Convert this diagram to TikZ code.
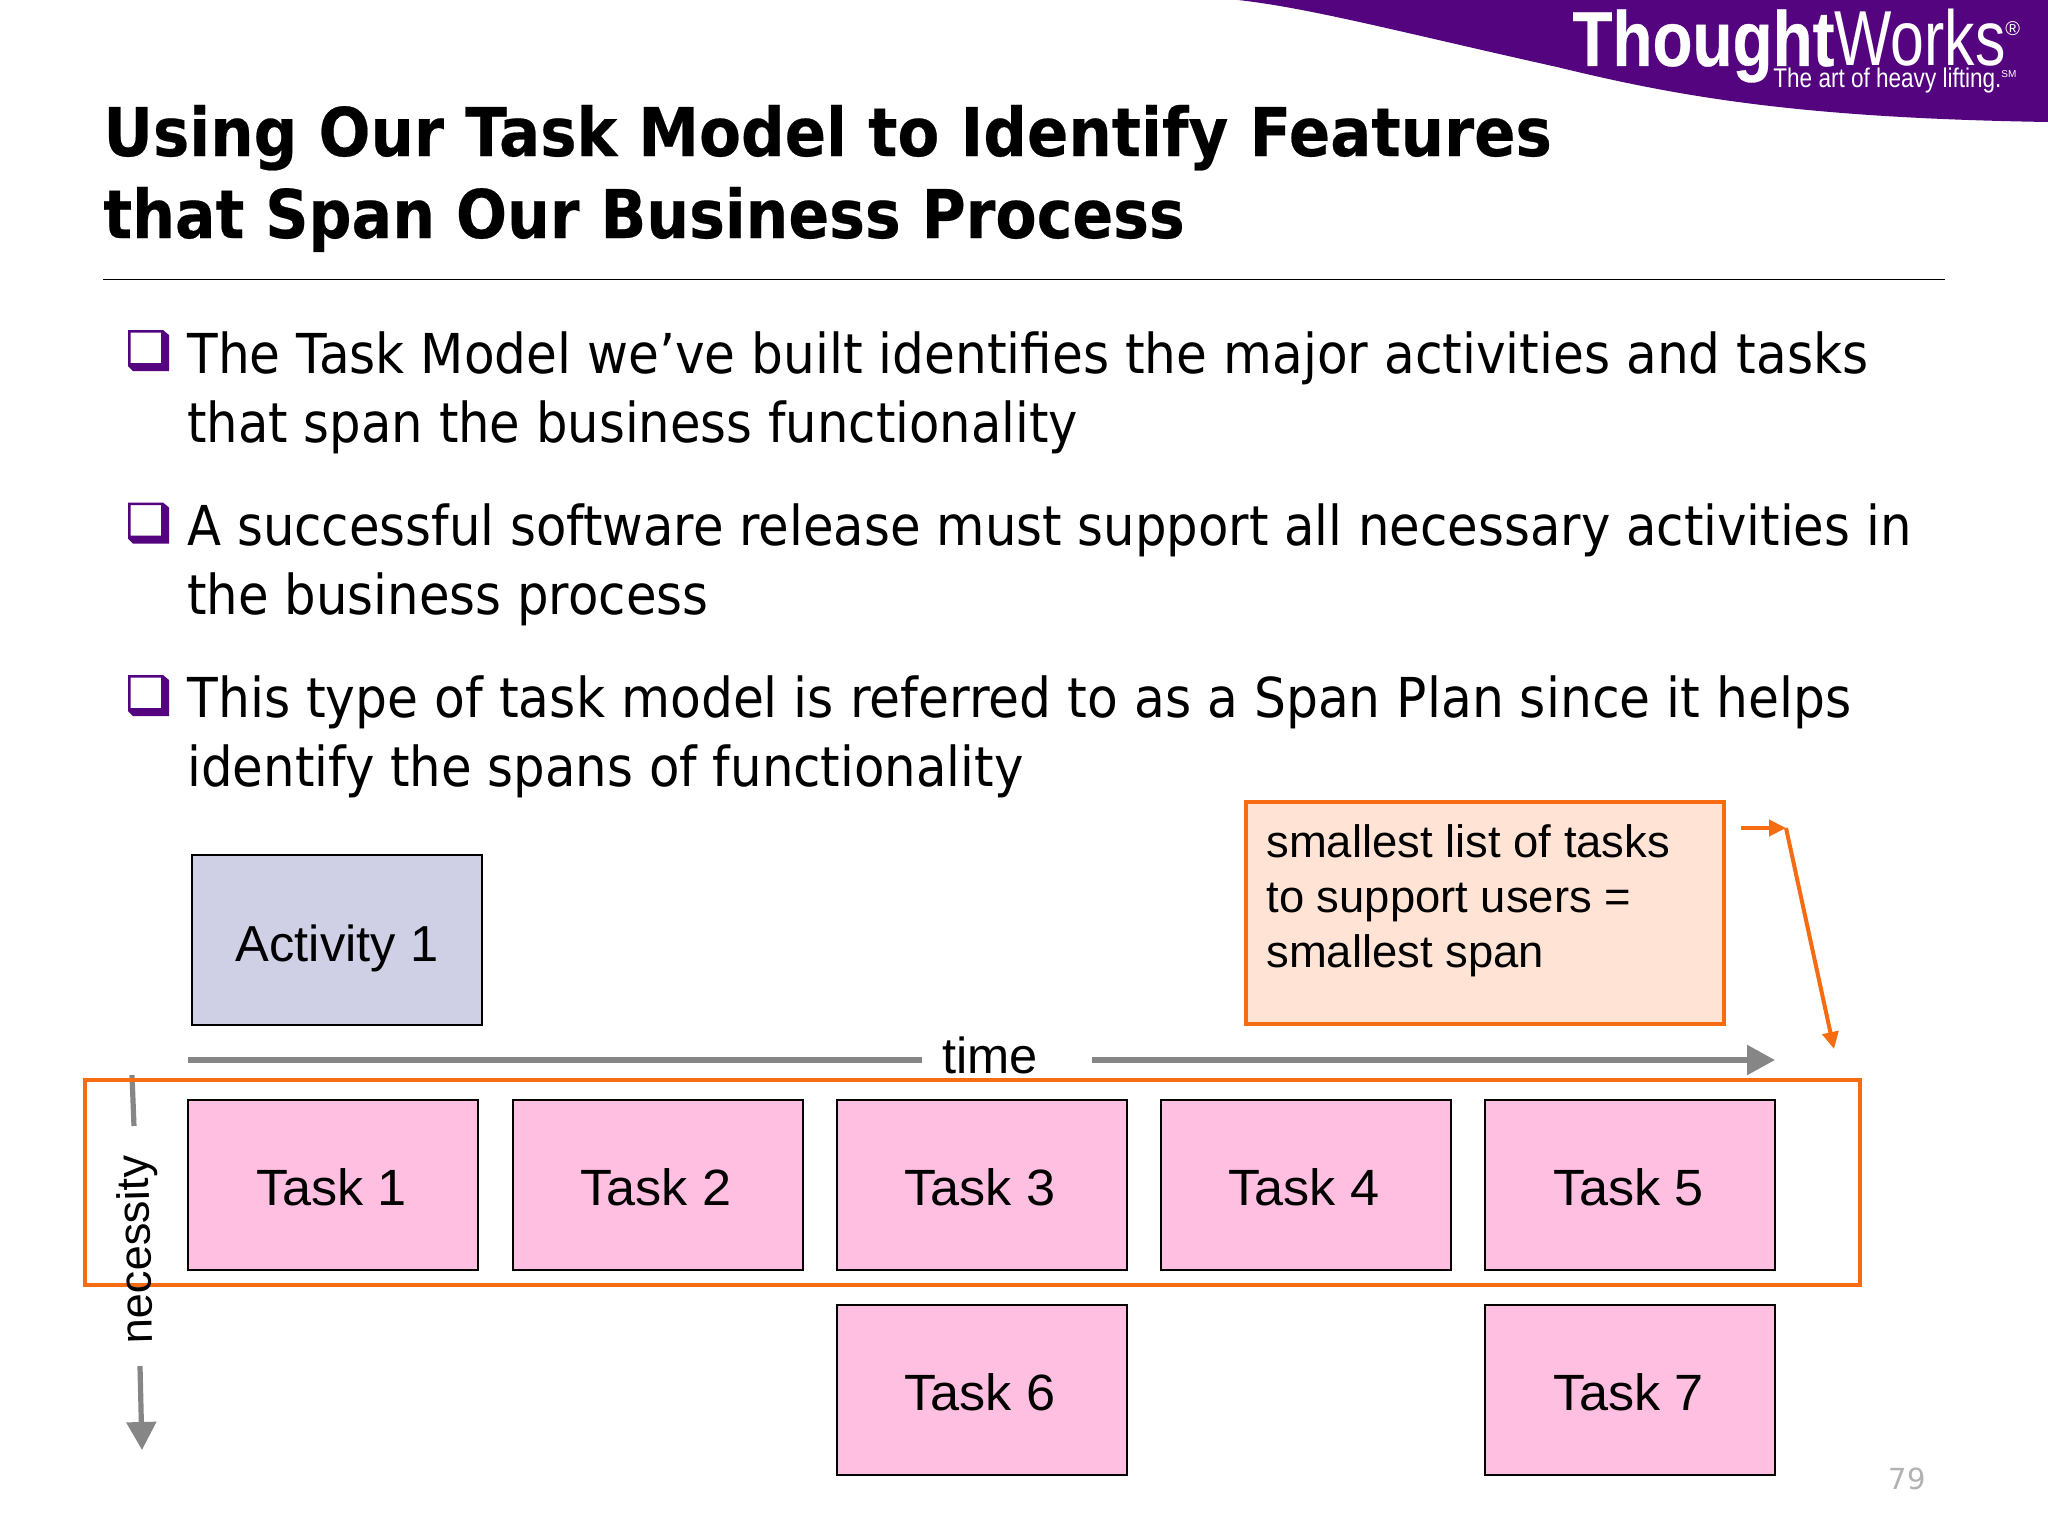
\documentclass[tikz,border=0pt]{standalone}
\usepackage{fontspec}
\usepackage{graphicx}
\usetikzlibrary{arrows.meta}
\setmainfont{DejaVu Sans}
\newfontfamily\arialf{Liberation Sans}
\newfontfamily\heavyf[BoldFeatures={FakeBold=0.35}]{DejaVu Sans}
\newfontfamily\heavylogo[BoldFeatures={FakeBold=0.4}]{Liberation Sans}
\definecolor{twpurple}{HTML}{54047E}
\definecolor{twpink}{HTML}{FFBFE0}
\definecolor{twblue}{HTML}{CFCFE6}
\definecolor{twpeach}{HTML}{FFE4D6}
\definecolor{tworange}{HTML}{F56C12}
\definecolor{twgray}{HTML}{868686}
\newcommand\fitw[2]{\resizebox{#1}{\height}{#2}}
\newcommand\tasklabel[1]{\fitw{75.5pt}{#1}\kern1.5pt}
\tikzset{
  x=0.5pt,y=-0.5pt,
  titleline/.style={anchor=base west,inner sep=0,font=\heavyf\fontsize{33.6}{40}\selectfont\bfseries},
  bodyline/.style={anchor=base west,inner sep=0,font=\fontsize{27.5}{34}\selectfont},
  taskbox/.style={draw=black,line width=1pt,fill=twpink,minimum width=145pt,minimum height=85pt,inner sep=0,
     font=\arialf\fontsize{25.5}{30}\selectfont,text height=21pt,text depth=0pt},
  actbox/.style={draw=black,line width=1pt,fill=twblue,minimum width=145pt,minimum height=85pt,inner sep=0,
     font=\arialf\fontsize{25.3}{30}\selectfont,text height=21pt,text depth=0pt},
  grayline/.style={draw=twgray,line width=2.75pt},
  orangeline/.style={draw=tworange,line width=2pt},
  grayhead/.style={-{Triangle[length=14pt,width=14.5pt]}},
  orangehead/.style={-{Triangle[length=8.5pt,width=8pt]}},
}
\begin{document}
\begin{tikzpicture}
\useasboundingbox (0,0) rectangle (2048,1536);
\fill[white] (0,0) rectangle (2048,1536);
% header band
\fill[twpurple] (1238,0) .. controls (1310,8) and (1400,32) .. (1557,67)
  .. controls (1680,97) and (1800,118) .. (2048,122) -- (2048,0) -- cycle;
\node[anchor=base west,inner sep=0,text=white,font=\arialf\fontsize{39}{40}\selectfont] (logo) at (1572,66)
  {\fitw{131pt}{\heavylogo\bfseries Thought}\fitw{85.5pt}{Works}\raisebox{15pt}{\fontsize{10}{10}\selectfont ®}};
\node[anchor=base west,inner sep=0,text=white,font=\arialf\fontsize{13.5}{15}\selectfont] (tagline) at (1773,88)
  {\fitw{114pt}{The art of heavy lifting.}\raisebox{5pt}{\fontsize{5}{5}\selectfont SM}};
% title
\node[titleline] (t1) at (103,156) {\fitw{724.2pt}{Using Our Task Model to Identify Features}};
\node[titleline] (t2) at (103,238) {\fitw{540.7pt}{that Span Our Business Process}};
\coordinate (ruleL) at (103,279.5);
\coordinate (ruleR) at (1945,279.5);
\draw[black,line width=0.95pt] (ruleL) -- (ruleR);
% bullets
\foreach \yy in {330,502.5,675}{
  \fill[twpurple,even odd rule] (128,\yy) -- (163,\yy) -- (169,\yy+5) -- (169,\yy+41) -- (133,\yy+41) -- (128,\yy+36) -- cycle
    (130.5,\yy+2.5) rectangle (161,\yy+33);
}
\node[bodyline] (b1) at (187,373) {\fitw{840.4pt}{The Task Model we’ve built identifies the major activities and tasks}};
\node[bodyline] (b2) at (187,442) {\fitw{445.3pt}{that span the business functionality}};
\node[bodyline] (b3) at (187,545.5) {\fitw{862pt}{A successful software release must support all necessary activities in}};
\node[bodyline] (b4) at (187,614.5) {\fitw{260.5pt}{the business process}};
\node[bodyline] (b5) at (187,717.5) {\fitw{832pt}{This type of task model is referred to as a Span Plan since it helps}};
\node[bodyline] (b6) at (187,786) {\fitw{418pt}{identify the spans of functionality}};
% activity
\node[actbox] (act) at (337,940) {Activity 1};
% callout
\node[draw=tworange,line width=2pt,fill=twpeach,minimum width=239pt,minimum height=111pt,inner sep=0] (callout) at (1485,913) {};
\node[anchor=north west,inner sep=0,align=left,font=\arialf\fontsize{22.7}{27.5}\selectfont] (callouttext) at (1266,824.5)
  {smallest list of tasks\\to support users =\\smallest span};
\coordinate (c1) at (1741,828);
\coordinate (c2) at (1786,828);
\coordinate (c3) at (1786,828);
\coordinate (c4) at (1834,1049);
\draw[orangeline,orangehead] (c1) -- (c2);
\draw[orangeline,orangehead] (c3) -- (c4);
% time
\coordinate (timeA) at (188,1060);
\coordinate (timeB) at (922,1060);
\coordinate (timeC) at (1092,1060);
\coordinate (timeD) at (1775,1060);
\draw[grayline] (timeA) -- (timeB);
\draw[grayline,grayhead] (timeC) -- (timeD);
\node[anchor=base,inner sep=0,font=\arialf\fontsize{25.3}{30}\selectfont] (timelabel) at (990,1073) {time};
% necessity arrow
\coordinate (nA) at (132,1075);
\coordinate (nB) at (134,1126);
\coordinate (nC) at (140,1366);
\coordinate (nD) at (142,1450);
\draw[grayline,line width=2.6pt] (nA) -- (nB);
\draw[grayline,line width=2.6pt,grayhead] (nC) -- (nD);
% tasks
\node[taskbox] (k1) at (333,1184.5) {\tasklabel{Task 1}};
\node[taskbox] (k2) at (657.5,1184.5) {\tasklabel{Task 2}};
\node[taskbox] (k3) at (981.5,1184.5) {\tasklabel{Task 3}};
\node[taskbox] (k4) at (1305.5,1184.5) {\tasklabel{Task 4}};
\node[taskbox] (k5) at (1630,1184.5) {\tasklabel{Task 5}};
\node[taskbox] (k6) at (981.5,1389.5) {\tasklabel{Task 6}};
\node[taskbox] (k7) at (1630,1389.5) {\tasklabel{Task 7}};
% span outline
\draw[orangeline] (85,1080) rectangle (1860,1285);
\node[anchor=base west,inner sep=0,rotate=91.5,font=\arialf\fontsize{22.6}{27}\selectfont] (necessity) at (153,1344) {necessity};
% page number
\node[anchor=base,inner sep=0,text=black!30,font=\fontsize{14.5}{18}\selectfont] (page) at (1907,1489) {79};
\end{tikzpicture}
\end{document}
